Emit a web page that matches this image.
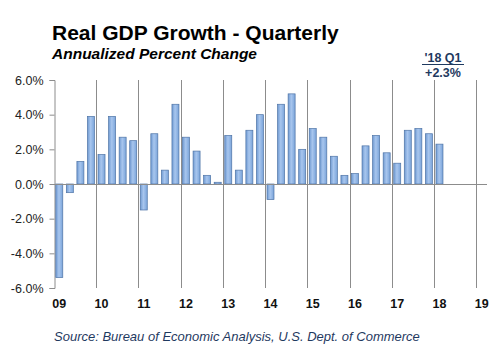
<!DOCTYPE html>
<html>
<head>
<meta charset="utf-8">
<script src="https://cdn.jsdelivr.net/npm/d3@7"></script>
<style>
  body { margin: 0; background: #fff; }
  svg { font-family: "Liberation Sans", Arial, sans-serif; }
</style>
</head>
<body>
<div id="chart"></div>
<script>
const width = 500;
const height = 363;
const margin = { top: 80, right: 13, bottom: 75, left: 54 };

// quarterly real GDP growth, 2009 Q1 .. 2018 Q1
const quarters = [
  "09Q1", "09Q2", "09Q3", "09Q4", "10Q1", "10Q2", "10Q3", "10Q4",
  "11Q1", "11Q2", "11Q3", "11Q4", "12Q1", "12Q2", "12Q3", "12Q4",
  "13Q1", "13Q2", "13Q3", "13Q4", "14Q1", "14Q2", "14Q3", "14Q4",
  "15Q1", "15Q2", "15Q3", "15Q4", "16Q1", "16Q2", "16Q3", "16Q4",
  "17Q1", "17Q2", "17Q3", "17Q4", "18Q1"
];
const growth = [
  -5.4, -0.5, 1.3, 3.9, 1.7, 3.9, 2.7, 2.5,
  -1.5, 2.9, 0.8, 4.6, 2.7, 1.9, 0.5, 0.1,
  2.8, 0.8, 3.1, 4.0, -0.9, 4.6, 5.2, 2.0,
  3.2, 2.7, 1.6, 0.5, 0.6, 2.2, 2.8, 1.8,
  1.2, 3.1, 3.2, 2.9, 2.3
];
const yearLabels = ["09", "10", "11", "12", "13", "14", "15", "16", "17", "18", "19"];
const yTicks = [-6, -4, -2, 0, 2, 4, 6];
const totalQuarters = 41; // 09 Q1 through 19 Q1

const svg = d3
  .select("#chart")
  .append("svg")
  .attr("width", width)
  .attr("height", height);

const defs = svg.append("defs");
const grad = defs
  .append("linearGradient")
  .attr("id", "barGrad")
  .attr("x1", "0%")
  .attr("x2", "100%");
grad.append("stop").attr("offset", "0%").attr("stop-color", "#6f9ad2");
grad.append("stop").attr("offset", "45%").attr("stop-color", "#a8c6ee");
grad.append("stop").attr("offset", "100%").attr("stop-color", "#7aa4da");

const xScale = d3
  .scaleLinear()
  .domain([0, totalQuarters])
  .range([margin.left, width - margin.right]);

const yScale = d3
  .scaleLinear()
  .domain([-6, 6])
  .range([height - margin.bottom, margin.top]);

const step = xScale(1) - xScale(0);
const barWidth = 7;

// vertical year gridlines
svg
  .append("g")
  .selectAll("line")
  .data(yearLabels.slice(1))
  .enter()
  .append("line")
  .attr("x1", (d, i) => Math.round(xScale((i + 1) * 4)) + 0.5)
  .attr("x2", (d, i) => Math.round(xScale((i + 1) * 4)) + 0.5)
  .attr("y1", yScale(6))
  .attr("y2", yScale(-6))
  .attr("stroke", "#8c8c8c")
  .attr("stroke-width", 1);

// y-axis
const yAxis = svg
  .append("g")
  .attr("transform", `translate(${margin.left + 0.5},0)`)
  .call(
    d3
      .axisLeft(yScale)
      .tickValues(yTicks)
      .tickSize(5)
      .tickPadding(6)
      .tickFormat((d) => d.toFixed(1) + "%")
  );
yAxis.select(".domain").attr("stroke", "#8c8c8c");
yAxis.selectAll(".tick line").attr("stroke", "#8c8c8c");
yAxis
  .selectAll(".tick text")
  .attr("fill", "#222")
  .style("font-size", "12.5px")
  .style("font-family", "Liberation Sans, Arial, sans-serif");

// bars
svg
  .append("g")
  .selectAll("rect")
  .data(growth)
  .enter()
  .append("rect")
  .attr("x", (d, i) => xScale(i) + (step - barWidth) / 2)
  .attr("width", barWidth)
  .attr("y", (d) => yScale(Math.max(0, d)))
  .attr("height", (d) => Math.abs(yScale(d) - yScale(0)))
  .attr("fill", "url(#barGrad)")
  .attr("stroke", "#4f74a6")
  .attr("stroke-width", 0.7);

// zero line
svg
  .append("line")
  .attr("x1", xScale(0))
  .attr("x2", xScale(totalQuarters))
  .attr("y1", Math.round(yScale(0)) + 0.5)
  .attr("y2", Math.round(yScale(0)) + 0.5)
  .attr("stroke", "#8c8c8c")
  .attr("stroke-width", 1);

// year labels
svg
  .append("g")
  .selectAll("text")
  .data(yearLabels)
  .enter()
  .append("text")
  .attr("x", (d, i) => xScale(i * 4 + 0.5))
  .attr("y", 308)
  .attr("text-anchor", "middle")
  .attr("font-size", "12.5px")
  .attr("font-weight", "bold")
  .attr("fill", "#111")
  .text((d) => d);

// titles
svg
  .append("text")
  .attr("x", 52)
  .attr("y", 39.5)
  .attr("font-size", "21px")
  .attr("font-weight", "bold")
  .attr("fill", "#000")
  .text("Real GDP Growth - Quarterly");

svg
  .append("text")
  .attr("x", 52)
  .attr("y", 58.5)
  .attr("font-size", "15.5px")
  .attr("font-weight", "bold")
  .attr("font-style", "italic")
  .attr("fill", "#000")
  .text("Annualized Percent Change");

// latest value callout
const lastIdx = growth.length - 1;
const callX = 443;
svg
  .append("text")
  .attr("x", callX)
  .attr("y", 62)
  .attr("text-anchor", "middle")
  .attr("font-size", "12.5px")
  .attr("font-weight", "bold")
  .attr("fill", "#1f3a5f")
  .text("'18 Q1");
svg
  .append("line")
  .attr("x1", callX - 21)
  .attr("x2", callX + 21)
  .attr("y1", 64.5)
  .attr("y2", 64.5)
  .attr("stroke", "#1f3a5f")
  .attr("stroke-width", 1);
svg
  .append("text")
  .attr("x", callX)
  .attr("y", 76.5)
  .attr("text-anchor", "middle")
  .attr("font-size", "12.5px")
  .attr("font-weight", "bold")
  .attr("fill", "#1f3a5f")
  .text("+" + growth[lastIdx].toFixed(1) + "%");

// source
svg
  .append("text")
  .attr("x", 54)
  .attr("y", 341)
  .attr("font-size", "13px")
  .attr("font-style", "italic")
  .attr("fill", "#1f3a5f")
  .text("Source: Bureau of Economic Analysis, U.S. Dept. of Commerce");
</script>
</body>
</html>
